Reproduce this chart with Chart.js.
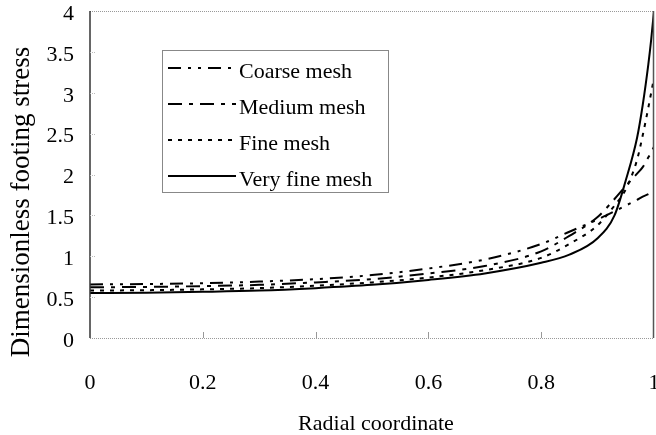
<!DOCTYPE html>
<html>
<head>
<meta charset="utf-8">
<script src="https://cdn.jsdelivr.net/npm/chart.js@4.4.1/dist/chart.umd.min.js"></script>
<style>
  html, body { margin: 0; padding: 0; background: #fff; }
</style>
</head>
<body>
<canvas id="stressChart" width="656" height="435"></canvas>
<script>
// values
const radial   = [0, 0.1, 0.2, 0.3, 0.4, 0.5, 0.6, 0.7, 0.8, 0.85, 0.9, 0.93, 0.95, 0.97, 0.98, 0.99, 0.995, 1];
const coarse   = [0.655, 0.66, 0.67, 0.69, 0.72, 0.77, 0.85, 0.96, 1.15, 1.30, 1.45, 1.55, 1.62, 1.69, 1.73, 1.76, 1.78, 1.80];
const medium   = [0.62, 0.625, 0.635, 0.65, 0.68, 0.72, 0.79, 0.88, 1.06, 1.25, 1.48, 1.70, 1.86, 2.01, 2.09, 2.21, 2.27, 2.34];
const fine     = [0.58, 0.585, 0.595, 0.61, 0.64, 0.68, 0.74, 0.83, 0.98, 1.15, 1.38, 1.62, 1.82, 2.18, 2.48, 2.82, 3.00, 3.18];
const veryFine = [0.55, 0.555, 0.565, 0.58, 0.61, 0.65, 0.71, 0.79, 0.92, 1.02, 1.22, 1.50, 1.93, 2.45, 2.85, 3.35, 3.65, 4.0];

const seriesNames = ['Coarse mesh', 'Medium mesh', 'Fine mesh', 'Very fine mesh'];
const xTicks = [0, 0.2, 0.4, 0.6, 0.8, 1];
const yTicks = [0, 0.5, 1, 1.5, 2, 2.5, 3, 3.5, 4];
const xTitle = 'Radial coordinate';
const yTitle = 'Dimensionless footing stress';

const serif = '"Liberation Serif", "Times New Roman", serif';

function pts(ys) {
    return radial.map((r, i) => ({ x: r, y: ys[i] }));
}

function line(ctx, x1, y1, x2, y2) {
    ctx.beginPath();
    ctx.moveTo(x1, y1);
    ctx.lineTo(x2, y2);
    ctx.stroke();
}

// frame, inner ticks, legend box and axis titles
const decor = {
    id: 'decor',
    afterDraw(chart) {
        const ctx = chart.ctx;
        const a = chart.chartArea;
        const xs = chart.scales.x, ys = chart.scales.y;
        ctx.save();

        // dotted top / bottom
        ctx.setLineDash([1, 1]);
        ctx.strokeStyle = '#999';
        ctx.lineWidth = 1;
        line(ctx, a.left, a.top + 0.5, a.right, a.top + 0.5);
        line(ctx, a.left, a.bottom + 0.5, a.right, a.bottom + 0.5);
        ctx.setLineDash([]);

        // left axis and right border
        ctx.strokeStyle = '#333';
        ctx.lineWidth = 1.5;
        line(ctx, a.left, a.top, a.left, a.bottom);
        ctx.strokeStyle = '#555';
        line(ctx, a.right - 0.5, a.top, a.right - 0.5, a.bottom);

        // small inner ticks
        ctx.lineWidth = 1;
        ctx.strokeStyle = '#999';
        xTicks.slice(1, -1).forEach(v => {
            const px = Math.round(xs.getPixelForValue(v)) + 0.5;
            line(ctx, px, a.bottom, px, a.bottom - 6);
        });
        ctx.setLineDash([1, 1]);
        ctx.strokeStyle = '#bbb';
        yTicks.slice(1, -1).forEach(v => {
            const py = Math.round(ys.getPixelForValue(v)) + 0.5;
            line(ctx, a.left, py, a.left + 5, py);
        });
        ctx.setLineDash([]);

        // legend
        ctx.strokeStyle = '#888';
        ctx.lineWidth = 1;
        ctx.strokeRect(162.5, 50.5, 226, 142);
        ctx.font = '22px ' + serif;
        ctx.fillStyle = '#000';
        ctx.textBaseline = 'alphabetic';
        ctx.textAlign = 'left';
        chart.data.datasets.forEach((ds, i) => {
            const base = 78 + i * 36;
            ctx.strokeStyle = ds.borderColor;
            ctx.lineWidth = ds.borderWidth;
            ctx.setLineDash(ds.borderDash);
            line(ctx, 168, base - 10, 236, base - 10);
            ctx.setLineDash([]);
            ctx.fillText(ds.label, 239, base);
        });

        // axis titles
        ctx.textAlign = 'center';
        ctx.textBaseline = 'middle';
        ctx.font = '22px ' + serif;
        ctx.fillText(xTitle, 376, 424);
        ctx.save();
        ctx.translate(22, 202);
        ctx.rotate(-Math.PI / 2);
        ctx.font = '27px ' + serif;
        ctx.fillText(yTitle, 0, 0);
        ctx.restore();

        ctx.restore();
    }
};

const ctx = document.getElementById('stressChart').getContext('2d');
new Chart(ctx, {
    type: 'line',
    data: {
        datasets: [
            { label: seriesNames[0], data: pts(coarse),   borderDash: [13, 7, 3, 7, 3, 7] },
            { label: seriesNames[1], data: pts(medium),   borderDash: [14, 7, 4, 7] },
            { label: seriesNames[2], data: pts(fine),     borderDash: [4, 6] },
            { label: seriesNames[3], data: pts(veryFine), borderDash: [] }
        ].map(ds => Object.assign(ds, {
            borderColor: '#000',
            borderWidth: 2,
            pointRadius: 0,
            fill: false,
            cubicInterpolationMode: 'monotone'
        }))
    },
    options: {
        responsive: false,
        animation: false,
        devicePixelRatio: 1,
        layout: { padding: { top: 11, right: 2, left: 0, bottom: 0 } },
        plugins: {
            legend: { display: false },
            tooltip: { enabled: false }
        },
        scales: {
            x: {
                type: 'linear',
                min: 0,
                max: 1,
                grid: { display: false, drawTicks: false },
                border: { display: false },
                afterBuildTicks: s => { s.ticks = xTicks.map(v => ({ value: v })); },
                afterFit: s => { s.height = 97; s.paddingLeft = 0; s.paddingRight = 0; },
                ticks: {
                    padding: 32,
                    maxRotation: 0,
                    autoSkip: false,
                    color: '#000',
                    font: { family: serif, size: 22 },
                    callback: v => String(v)
                }
            },
            y: {
                min: 0,
                max: 4,
                grid: { display: false, drawTicks: false },
                border: { display: false },
                afterBuildTicks: s => { s.ticks = yTicks.map(v => ({ value: v })); },
                afterFit: s => { s.width = 90; s.paddingTop = 0; s.paddingBottom = 0; },
                ticks: {
                    padding: 16,
                    labelOffset: 3,
                    autoSkip: false,
                    color: '#000',
                    font: { family: serif, size: 22 },
                    callback: v => String(v)
                }
            }
        }
    },
    plugins: [decor]
});
</script>
</body>
</html>
